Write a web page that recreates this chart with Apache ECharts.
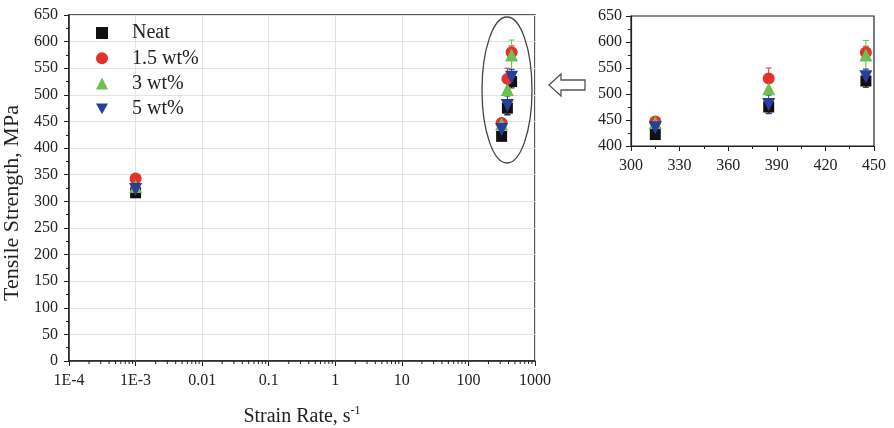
<!DOCTYPE html>
<html><head><meta charset="utf-8">
<script src="https://cdn.jsdelivr.net/npm/echarts@6/dist/echarts.min.js"></script>
<style>html,body{margin:0;padding:0;background:#fff}#c{width:894px;height:428px}</style>
</head><body><div id="c"></div>
<script>
// ---- data ----
const seriesNames = ['Neat', '1.5 wt%', '3 wt%', '5 wt%'];
const rates = [0.001, 315, 385, 445];           // strain rate, 1/s
const neat  = [316, 422, 475, 525];
const wt15  = [343, 447, 530, 580];
const wt3   = [328, 445, 510, 575];
const wt5   = [322, 435, 480, 533];
const neatErr = [4, 6, 12, 12];
const wt15Err = [4, 6, 20, 12];
const wt3Err  = [4, 5, 12, 28];
const wt5Err  = [4, 6, 18, 15];
const mainXTicks = ['1E-4', '1E-3', '0.01', '0.1', '1', '10', '100', '1000'];
const insetMinRate = 300;

const colors = ['#111111', '#e3312b', '#6cc04f', '#2a3d9a'];
const symbols = ['rect', 'circle', 'triangle', 'path://M0,0 L10,0 L5,9 Z'];
const values = [neat, wt15, wt3, wt5];
const errs = [neatErr, wt15Err, wt3Err, wt5Err];
const FONT = '"Liberation Serif", "DejaVu Serif", serif';
const TXT = '#222';

const chart = echarts.init(document.getElementById('c'));

function errSeries(i, grid, log) {
  const data = [];
  rates.forEach((r, k) => {
    if (!log && r < insetMinRate) return;
    const x = log ? Math.log10(r) : r;
    data.push([x, values[i][k] - errs[i][k], values[i][k] + errs[i][k]]);
  });
  return {
    type: 'custom', xAxisIndex: grid, yAxisIndex: grid, silent: true, z: 1,
    data: data,
    renderItem: function (params, api) {
      const lo = api.coord([api.value(0), api.value(1)]);
      const hi = api.coord([api.value(0), api.value(2)]);
      const w = 3;
      const st = { stroke: colors[i], lineWidth: 1 };
      return { type: 'group', children: [
        { type: 'line', shape: { x1: lo[0], y1: lo[1], x2: hi[0], y2: hi[1] }, style: st },
        { type: 'line', shape: { x1: lo[0] - w, y1: lo[1], x2: lo[0] + w, y2: lo[1] }, style: st },
        { type: 'line', shape: { x1: hi[0] - w, y1: hi[1], x2: hi[0] + w, y2: hi[1] }, style: st }
      ]};
    }
  };
}

const sizes = [11, 12, 13, 13];
function scatterSeries(i, grid, log) {
  const data = [];
  rates.forEach((r, k) => {
    if (!log && r < insetMinRate) return;
    data.push([log ? Math.log10(r) : r, values[i][k]]);
  });
  return {
    type: 'scatter', name: seriesNames[i], xAxisIndex: grid, yAxisIndex: grid,
    symbol: symbols[i], symbolSize: sizes[i],
    itemStyle: { color: colors[i], opacity: 1 }, z: 3 + i,
    data: data
  };
}

// minor ticks for the log axis (2..9 within each decade)
const minorLog = [];
for (let n = -4; n < 3; n++) for (let k = 2; k <= 9; k++) minorLog.push([Math.log10(k * Math.pow(10, n)), 0]);

const series = [];
for (let i = 0; i < 4; i++) { series.push(errSeries(i, 0, true)); }
for (let i = 0; i < 4; i++) { series.push(scatterSeries(i, 0, true)); }
for (let i = 0; i < 4; i++) { series.push(errSeries(i, 1, false)); }
for (let i = 0; i < 4; i++) { const s = scatterSeries(i, 1, false); s.name = seriesNames[i] + ' '; series.push(s); }
series.push({
  type: 'custom', xAxisIndex: 0, yAxisIndex: 0, silent: true, z: 10, clip: false,
  data: minorLog,
  renderItem: function (params, api) {
    const p = api.coord([api.value(0), 0]);
    return { type: 'line', shape: { x1: p[0], y1: p[1], x2: p[0], y2: p[1] + 3 }, style: { stroke: '#222', lineWidth: 1 } };
  }
});

const axisCommon = {
  axisLine: { show: true, onZero: false, lineStyle: { color: '#222', width: 1.5 } },
  axisTick: { show: true, length: 5, lineStyle: { color: '#222', width: 1 } },
  axisLabel: { color: TXT, fontFamily: FONT, fontSize: 16 }
};

chart.setOption({
  animation: false,
  backgroundColor: '#fff',
  grid: [
    { left: 69, top: 15, right: 359, bottom: 67, show: true, borderColor: '#222', borderWidth: 1.5,
      containLabel: false, outerBoundsMode: 'none' },
    { left: 631, top: 16, right: 20, bottom: 282, show: true, borderColor: '#222', borderWidth: 1.2,
      containLabel: false, outerBoundsMode: 'none' }
  ],
  legend: {
    data: seriesNames, orient: 'vertical', left: 91, top: 18,
    itemWidth: 12, itemHeight: 12, itemGap: 5.3,
    textStyle: { fontFamily: FONT, fontSize: 20, lineHeight: 20, color: TXT, padding: [0, 0, 0, 19] }
  },
  xAxis: [
    Object.assign({}, axisCommon, {
      type: 'value', gridIndex: 0, min: -4, max: 3, interval: 1,
      splitLine: { show: true, lineStyle: { color: '#e4e4e4', width: 1 } },
      axisLabel: Object.assign({}, axisCommon.axisLabel, { margin: 12,
        formatter: v => mainXTicks[Math.round(v) + 4] }),
      name: '{a|Strain Rate, s}{b|-1}', nameLocation: 'middle', nameGap: 44,
      nameTextStyle: { rich: {
        a: { fontFamily: FONT, fontSize: 20, color: TXT },
        b: { fontFamily: FONT, fontSize: 12, color: TXT, verticalAlign: 'top', padding: [0, 0, 12, 0] }
      } }
    }),
    Object.assign({}, axisCommon, {
      type: 'value', gridIndex: 1, min: 300, max: 450, interval: 30,
      splitLine: { show: false },
      minorTick: { show: true, splitNumber: 2, length: 3, lineStyle: { color: '#222' } },
      axisLine: { show: true, onZero: false, lineStyle: { color: '#222', width: 1.2 } },
      axisLabel: Object.assign({}, axisCommon.axisLabel, { margin: 12 })
    })
  ],
  yAxis: [
    Object.assign({}, axisCommon, {
      type: 'value', gridIndex: 0, min: 0, max: 650, interval: 50,
      splitLine: { show: true, lineStyle: { color: '#e4e4e4', width: 1 } },
      minorTick: { show: true, splitNumber: 2, length: 3, lineStyle: { color: '#222' } },
      axisLabel: Object.assign({}, axisCommon.axisLabel, { margin: 11 }),
      name: 'Tensile Strength, MPa', nameLocation: 'middle', nameGap: 45,
      nameTextStyle: { fontFamily: FONT, fontSize: 22, color: TXT, padding: [0, 30, 0, 0] }
    }),
    Object.assign({}, axisCommon, {
      type: 'value', gridIndex: 1, min: 400, max: 650, interval: 50,
      splitLine: { show: false },
      minorTick: { show: true, splitNumber: 2, length: 3, lineStyle: { color: '#222' } },
      axisLine: { show: true, onZero: false, lineStyle: { color: '#222', width: 1.2 } },
      axisLabel: Object.assign({}, axisCommon.axisLabel, { margin: 9 })
    })
  ],
  graphic: [
    { type: 'ellipse', shape: { cx: 507, cy: 90, rx: 25, ry: 73 },
      style: { fill: 'none', stroke: '#444', lineWidth: 1.3 }, z: 20 },
    { type: 'polygon', shape: { points: [[549, 85], [561, 74], [561, 80], [585, 80], [585, 90], [561, 90], [561, 96]] },
      style: { fill: '#fff', stroke: '#555', lineWidth: 1.3 }, z: 20 }
  ],
  series: series
});
</script></body></html>
